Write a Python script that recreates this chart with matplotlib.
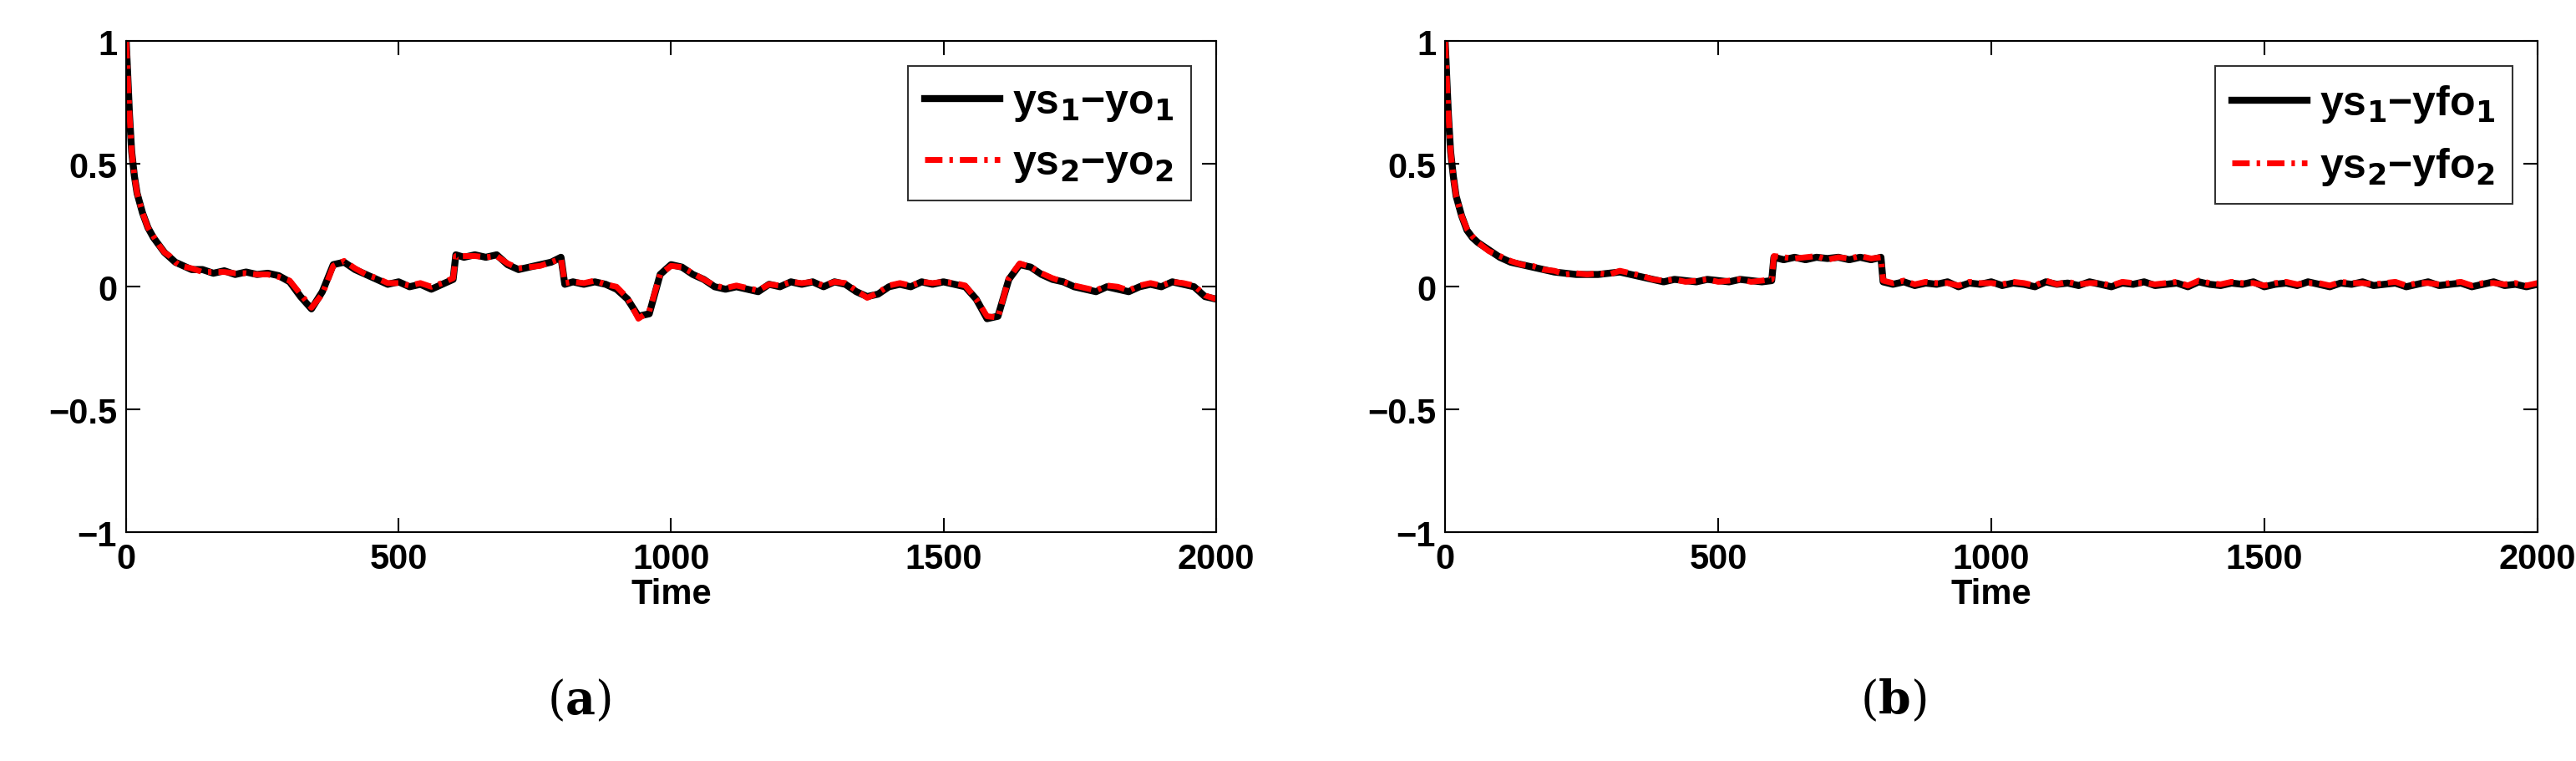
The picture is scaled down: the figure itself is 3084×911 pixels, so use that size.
import matplotlib
matplotlib.use("Agg")
import matplotlib.pyplot as plt

# Panel (a)
time_a = [0,3,6,10,15,20,30,40,50,60,70,80,90] + list(range(100,601,20)) + [605] + list(range(620,781,20)) + [798,805] + list(range(820,2001,20))
a1 = [1.0,0.85,0.7,0.55,0.45,0.38,0.3,0.24,0.2,0.17,0.14,0.12,0.1,
      0.09,0.07,0.07,0.055,0.065,0.05,0.06,0.05,0.055,0.045,0.02,-0.04,-0.09,-0.02,0.09,0.10,0.07,0.05,0.03,0.01,0.02,0.0,0.01,-0.01,0.01,0.03,
      0.13,
      0.12,0.13,0.12,0.13,0.09,0.07,0.08,0.09,0.10,
      0.12,0.01,
      0.02,0.01,0.02,0.01,-0.01,-0.05,-0.12,-0.11,0.05,0.09,
      0.08,0.05,0.03,0.0,-0.01,0.0,-0.01,-0.02,0.01,0.0,
      0.02,0.01,0.02,0.0,0.02,0.01,-0.02,-0.04,-0.03,0.0,
      0.01,0.0,0.02,0.01,0.02,0.01,0.0,-0.05,-0.13,-0.12,
      0.03,0.09,0.08,0.05,0.03,0.02,0.0,-0.01,-0.02,0.0,
      -0.01,-0.02,0.0,0.01,0.0,0.02,0.01,0.0,-0.04,-0.05]
a2 = [1.0,0.85,0.7,0.55,0.45,0.38,0.3,0.24,0.205,0.17,0.14,0.125,0.1,
      0.085,0.075,0.06,0.06,0.06,0.055,0.055,0.05,0.05,0.04,0.025,-0.03,-0.085,-0.03,0.085,0.105,0.075,0.05,0.035,0.015,0.015,0.005,0.015,0.0,0.015,0.035,
      0.125,
      0.125,0.125,0.12,0.125,0.095,0.075,0.08,0.085,0.10,
      0.115,0.015,
      0.02,0.015,0.025,0.01,0.0,-0.045,-0.13,-0.10,0.05,0.085,
      0.08,0.055,0.03,0.005,-0.005,0.005,-0.005,-0.015,0.01,0.005,
      0.02,0.015,0.02,0.005,0.02,0.015,-0.015,-0.045,-0.025,0.005,
      0.015,0.005,0.02,0.015,0.02,0.015,0.005,-0.05,-0.12,-0.125,
      0.035,0.095,0.08,0.055,0.035,0.02,0.005,-0.005,-0.015,0.005,
      0.0,-0.015,0.005,0.015,0.005,0.02,0.015,0.005,-0.035,-0.05]

# Panel (b)
time_b = [0,3,6,10,15,20,30,40,50,60] + list(range(80,581,20)) + [598,602] + list(range(620,781,20)) + [798,802] + list(range(820,2001,20))
b1 = [1.0,0.85,0.7,0.55,0.45,0.37,0.29,0.23,0.2,0.18,
      0.15,0.12,0.1,0.09,0.08,0.07,0.06,0.055,0.05,0.05,0.05,0.055,0.06,0.05,0.04,0.03,0.02,0.03,0.025,0.02,0.03,0.025,0.02,0.03,0.025,0.02,
      0.025,0.12,
      0.11,0.12,0.11,0.12,0.115,0.12,0.11,0.12,0.11,
      0.12,0.02,
      0.01,0.02,0.005,0.015,0.01,0.02,0.0,0.015,0.01,0.02,
      0.005,0.015,0.01,0.0,0.02,0.01,0.015,0.005,0.02,0.01,
      0.0,0.015,0.01,0.02,0.005,0.01,0.015,0.0,0.02,0.01,
      0.005,0.015,0.01,0.02,0.0,0.01,0.015,0.005,0.02,0.01,
      0.0,0.015,0.01,0.02,0.005,0.01,0.015,0.0,0.01,0.02,
      0.005,0.01,0.015,0.0,0.01,0.02,0.005,0.01,0.0,0.01]
b2 = [1.0,0.85,0.7,0.55,0.45,0.37,0.29,0.235,0.205,0.18,
      0.145,0.125,0.105,0.09,0.085,0.07,0.065,0.05,0.055,0.05,0.055,0.05,0.065,0.055,0.045,0.03,0.025,0.03,0.02,0.025,0.03,0.02,0.025,0.03,0.02,0.025,
      0.03,0.125,
      0.12,0.115,0.12,0.125,0.11,0.12,0.115,0.125,0.115,
      0.12,0.025,
      0.015,0.025,0.01,0.02,0.015,0.015,0.005,0.02,0.015,0.015,
      0.01,0.02,0.015,0.005,0.025,0.01,0.02,0.01,0.015,0.015,
      0.005,0.02,0.015,0.015,0.01,0.015,0.02,0.005,0.025,0.015,
      0.01,0.02,0.015,0.015,0.005,0.015,0.02,0.01,0.015,0.015,
      0.005,0.02,0.015,0.015,0.01,0.015,0.02,0.005,0.015,0.015,
      0.01,0.015,0.02,0.005,0.015,0.015,0.01,0.015,0.005,0.015]

labels_a = ["ys$_1$\u2212yo$_1$", "ys$_2$\u2212yo$_2$"]
labels_b = ["ys$_1$\u2212yfo$_1$", "ys$_2$\u2212yfo$_2$"]

plt.rcParams["font.family"] = ["Liberation Sans Narrow", "Liberation Sans"]
plt.rcParams["font.weight"] = "bold"
plt.rcParams["mathtext.default"] = "bf"

fig = plt.figure(figsize=(30.84, 9.12), dpi=100)
panels = [
    ([0.049, 0.30, 0.423, 0.645], time_a, a1, a2, labels_a, "a", 0.225),
    ([0.561, 0.30, 0.424, 0.645], time_b, b1, b2, labels_b, "b", 0.735),
]
for rect, t, s1, s2, labs, tag, cx in panels:
    ax = fig.add_axes(rect)
    ax.plot(t, s1, color="black", lw=6, label=labs[0])
    ax.plot(t, s2, color="red", lw=5, linestyle=(0, (3, 1.2, 0.6, 1.2)), label=labs[1])
    ax.set_xlim(0, 2000)
    ax.set_ylim(-1, 1)
    ax.set_xticks([0, 500, 1000, 1500, 2000])
    ax.set_yticks([-1, -0.5, 0, 0.5, 1])
    ax.set_yticklabels(["\u22121", "\u22120.5", "0", "0.5", "1"])
    ax.tick_params(labelsize=30, direction="in", length=12, width=1.5, top=True, right=True, pad=8)
    for lab in ax.get_xticklabels() + ax.get_yticklabels():
        lab.set_fontweight("bold")
    for sp in ax.spines.values():
        sp.set_linewidth(1.5)
    ax.set_xlabel("Time", fontsize=30, fontweight="bold", labelpad=2)
    leg = ax.legend(loc="upper right", fontsize=36, fancybox=False, edgecolor="black",
                    handlelength=1.8, handletextpad=0.3, borderaxespad=0.6,
                    labelspacing=0.5, borderpad=0.4)
    leg.get_frame().set_linewidth(1.5)
    fig.text(cx, 0.08, r"($\mathbf{%s}$)" % tag, ha="center", va="center", fontsize=40,
             family="DejaVu Serif", math_fontfamily="dejavuserif", fontweight="normal")

fig.savefig("out.png", dpi=100)
